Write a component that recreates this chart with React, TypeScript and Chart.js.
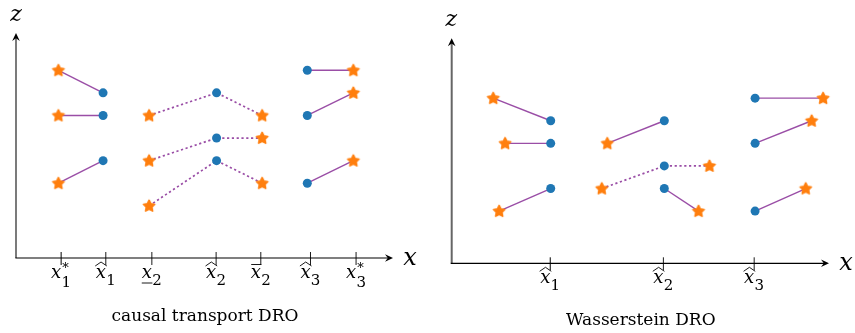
import React, { useEffect, useRef } from "react";
import { Chart, registerables } from "chart.js";

Chart.register(...registerables);

// ---------- data ----------
// z levels (vertical), x positions (horizontal, arbitrary units from the z axis)
const leftTickValues = [0.99, 1.97, 2.98, 4.39, 5.37, 6.46, 7.46];
const leftTickSub = ["1", "1", "2", "2", "2", "3", "3"];
const leftTickSup = ["*", "", "", "", "", "", "*"];
const leftTickAccent = ["none", "hat", "under", "hat", "bar", "hat", "none"];

const rightTickValues = [2.16, 4.64, 6.63];
const rightTickSub = ["1", "2", "3"];
const rightTickSup = ["", "", ""];
const rightTickAccent = ["hat", "hat", "hat"];

type Group = { x: number[]; z: number[]; kind: string[]; dashed: boolean };

const leftGroups: Group[] = [
  { x: [0.93, 1.91], z: [7, 6], kind: ["star", "dot"], dashed: false },
  { x: [0.93, 1.91], z: [5, 5], kind: ["star", "dot"], dashed: false },
  { x: [0.93, 1.91], z: [2, 3], kind: ["star", "dot"], dashed: false },
  { x: [2.92, 4.4, 5.4], z: [5, 6, 5], kind: ["star", "dot", "star"], dashed: true },
  { x: [2.92, 4.4, 5.4], z: [3, 4, 4], kind: ["star", "dot", "star"], dashed: true },
  { x: [2.92, 4.4, 5.4], z: [1, 3, 2], kind: ["star", "dot", "star"], dashed: true },
  { x: [6.39, 7.4], z: [7, 7], kind: ["dot", "star"], dashed: false },
  { x: [6.39, 7.4], z: [5, 6], kind: ["dot", "star"], dashed: false },
  { x: [6.39, 7.4], z: [2, 3], kind: ["dot", "star"], dashed: false },
];

const rightGroups: Group[] = [
  { x: [0.91, 2.17], z: [6, 5], kind: ["star", "dot"], dashed: false },
  { x: [1.17, 2.17], z: [4, 4], kind: ["star", "dot"], dashed: false },
  { x: [1.04, 2.17], z: [1, 2], kind: ["star", "dot"], dashed: false },
  { x: [3.41, 4.66], z: [4, 5], kind: ["star", "dot"], dashed: false },
  { x: [3.29, 4.66, 5.65], z: [2, 3, 3], kind: ["star", "dot", "star"], dashed: true },
  { x: [4.66, 5.41], z: [2, 1], kind: ["dot", "star"], dashed: false },
  { x: [6.65, 8.14], z: [6, 6], kind: ["dot", "star"], dashed: false },
  { x: [6.65, 7.89], z: [4, 5], kind: ["dot", "star"], dashed: false },
  { x: [6.65, 7.76], z: [1, 2], kind: ["dot", "star"], dashed: false },
];

const leftCaption = "causal transport DRO";
const rightCaption = "Wasserstein DRO";

// ---------- styles ----------
const PURPLE = "#9a4ea6";
const BLUE = "#1f77b4";
const ORANGE = "#ff7f0e";
const SERIF = '"DejaVu Serif"';

function makeStar(): HTMLCanvasElement {
  const c = document.createElement("canvas");
  c.width = 16;
  c.height = 16;
  const g = c.getContext("2d")!;
  g.beginPath();
  for (let i = 0; i < 10; i++) {
    const r = i % 2 === 0 ? 5.9 : 2.9;
    const a = -Math.PI / 2 + (i * Math.PI) / 5;
    const px = 8 + r * Math.cos(a);
    const py = 8.3 + r * Math.sin(a);
    if (i === 0) g.moveTo(px, py);
    else g.lineTo(px, py);
  }
  g.closePath();
  g.fillStyle = ORANGE;
  g.fill();
  g.lineJoin = "round";
  g.lineWidth = 1.7;
  g.strokeStyle = ORANGE;
  g.stroke();
  return c;
}

function arrowHead(ctx: CanvasRenderingContext2D, x: number, y: number, up: boolean, color: string) {
  ctx.save();
  ctx.translate(x, y);
  if (up) ctx.rotate(-Math.PI / 2);
  ctx.beginPath();
  ctx.moveTo(0, 0);
  ctx.lineTo(-8, -3.8);
  ctx.lineTo(-5.2, 0);
  ctx.lineTo(-8, 3.8);
  ctx.closePath();
  ctx.fillStyle = color;
  ctx.fill();
  ctx.restore();
}

type Panel = {
  groups: Group[];
  tickValues: number[];
  tickSub: string[];
  tickSup: string[];
  tickAccent: string[];
  caption: string;
  captionX: number;
  captionY: number;
  yAxisColor: string;
  yAxisWidth: number;
  padding: { left: number; right: number; top: number; bottom: number };
  zLabel: { x: number; y: number };
  xLabel: { x: number; y: number };
};

function drawTickLabel(
  ctx: CanvasRenderingContext2D,
  cx: number,
  base: number,
  sub: string,
  sup: string,
  accent: string
) {
  const mainFont = `italic 18px ${SERIF}`;
  const subFont = `15px ${SERIF}`;
  const supFont = `13px ${SERIF}`;
  ctx.font = mainFont;
  const wx = ctx.measureText("x").width;
  ctx.font = subFont;
  const wsub = ctx.measureText(sub).width;
  ctx.font = supFont;
  const wsup = sup ? ctx.measureText(sup).width : 0;
  const total = wx + Math.max(wsub, wsup) + 0.5;
  const x0 = cx - total / 2;
  ctx.fillStyle = "#000";
  ctx.textAlign = "left";
  ctx.textBaseline = "alphabetic";
  ctx.font = mainFont;
  ctx.fillText("x", x0, base);
  ctx.font = subFont;
  ctx.fillText(sub, x0 + wx + 0.3, base + (sup ? 8.5 : 6.5));
  if (sup) {
    ctx.font = supFont;
    ctx.fillText(sup, x0 + wx + 1, base - 6.5);
  }
  ctx.strokeStyle = "#000";
  ctx.lineWidth = 0.9;
  const l = x0 - 0.5;
  const r = x0 + wx + 1;
  if (accent === "hat") {
    ctx.beginPath();
    ctx.moveTo(l, base - 12);
    ctx.lineTo((l + r) / 2, base - 16);
    ctx.lineTo(r, base - 12);
    ctx.stroke();
  } else if (accent === "bar") {
    ctx.beginPath();
    ctx.moveTo(l + 1, base - 13.5);
    ctx.lineTo(r - 0.5, base - 13.5);
    ctx.stroke();
  } else if (accent === "under") {
    ctx.beginPath();
    ctx.moveTo(l + 0.5, base + 5);
    ctx.lineTo(r - 0.5, base + 5);
    ctx.stroke();
  }
}

function axesPlugin(p: Panel) {
  return {
    id: "axesDeco",
    beforeDatasetsDraw(chart: any) {
      const ctx: CanvasRenderingContext2D = chart.ctx;
      const xs = chart.scales.x;
      const ys = chart.scales.y;
      const ox = xs.left;
      const oy = ys.bottom;
      const right = xs.right;
      const top = ys.top;
      ctx.save();
      // y axis
      ctx.strokeStyle = p.yAxisColor;
      ctx.lineWidth = p.yAxisWidth;
      ctx.beginPath();
      ctx.moveTo(ox, oy);
      ctx.lineTo(ox, top + 4);
      ctx.stroke();
      arrowHead(ctx, ox, top, true, "#000");
      // x axis
      ctx.strokeStyle = "#000";
      ctx.lineWidth = 1.2;
      ctx.beginPath();
      ctx.moveTo(ox - p.yAxisWidth / 2, oy);
      ctx.lineTo(right - 4, oy);
      ctx.stroke();
      arrowHead(ctx, right, oy, false, "#000");
      // ticks
      ctx.lineWidth = 1;
      p.tickValues.forEach((v, i) => {
        const px = xs.getPixelForValue(v);
        ctx.beginPath();
        ctx.moveTo(px, oy - 6);
        ctx.lineTo(px, oy + 7);
        ctx.stroke();
        drawTickLabel(ctx, px, oy + 20, p.tickSub[i], p.tickSup[i], p.tickAccent[i]);
      });
      // axis labels
      ctx.fillStyle = "#000";
      ctx.textAlign = "center";
      ctx.textBaseline = "alphabetic";
      ctx.font = `italic 22px ${SERIF}`;
      ctx.fillText("z", p.zLabel.x, p.zLabel.y);
      ctx.font = `italic 24px ${SERIF}`;
      ctx.fillText("x", p.xLabel.x, p.xLabel.y);
      // caption
      ctx.font = `17px ${SERIF}`;
      ctx.fillText(p.caption, p.captionX, p.captionY);
      ctx.restore();
    },
  };
}

function buildConfig(p: Panel, star: HTMLCanvasElement): any {
  const datasets = p.groups.map((g) => ({
    type: "line",
    data: g.x.map((x, i) => ({ x, y: g.z[i] })),
    borderColor: PURPLE,
    borderWidth: g.dashed ? 1.7 : 1.4,
    borderDash: g.dashed ? [2.2, 2.6] : [],
    tension: 0,
    fill: false,
    clip: false,
    pointStyle: g.kind.map((k) => (k === "star" ? star : "circle")),
    pointRadius: g.kind.map((k) => (k === "star" ? 6 : 4.5)),
    pointBackgroundColor: g.kind.map((k) => (k === "star" ? ORANGE : BLUE)),
    pointBorderColor: g.kind.map((k) => (k === "star" ? ORANGE : BLUE)),
    pointBorderWidth: 0,
  }));
  return {
    type: "line",
    data: { datasets },
    options: {
      responsive: false,
      animation: false,
      events: [],
      layout: { padding: p.padding },
      plugins: { legend: { display: false }, tooltip: { enabled: false } },
      scales: {
        x: { type: "linear", min: 0, max: 8.27, display: false },
        y: { type: "linear", min: -1.31, max: 8.65, display: false },
      },
    },
    plugins: [axesPlugin(p)],
  };
}

const leftPanel: Panel = {
  groups: leftGroups,
  tickValues: leftTickValues,
  tickSub: leftTickSub,
  tickSup: leftTickSup,
  tickAccent: leftTickAccent,
  caption: leftCaption,
  captionX: 205,
  captionY: 321,
  yAxisColor: "#222",
  yAxisWidth: 1.2,
  padding: { left: 16, right: 35, top: 33, bottom: 75 },
  zLabel: { x: 16, y: 20.5 },
  xLabel: { x: 410, y: 265 },
};

const rightPanel: Panel = {
  groups: rightGroups,
  tickValues: rightTickValues,
  tickSub: rightTickSub,
  tickSup: rightTickSup,
  tickAccent: rightTickAccent,
  caption: rightCaption,
  captionX: 640.8 - 428,
  captionY: 324.5,
  yAxisColor: "#666",
  yAxisWidth: 2,
  padding: { left: 23.7, right: 26, top: 38.3, bottom: 69.7 },
  zLabel: { x: 451.3 - 428, y: 26 },
  xLabel: { x: 846 - 428, y: 270 },
};

export default function App() {
  const leftRef = useRef<HTMLCanvasElement>(null);
  const rightRef = useRef<HTMLCanvasElement>(null);
  useEffect(() => {
    const star = makeStar();
    const c1 = new Chart(leftRef.current!, buildConfig(leftPanel, star));
    const c2 = new Chart(rightRef.current!, buildConfig(rightPanel, star));
    return () => {
      c1.destroy();
      c2.destroy();
    };
  }, []);
  return (
    <div style={{ position: "fixed", left: 0, top: 0, width: 855, height: 333, background: "#fff" }}>
      <canvas
        ref={leftRef}
        width={428}
        height={333}
        style={{ position: "absolute", left: 0, top: 0, width: 428, height: 333 }}
      />
      <canvas
        ref={rightRef}
        width={427}
        height={333}
        style={{ position: "absolute", left: 428, top: 0, width: 427, height: 333 }}
      />
    </div>
  );
}
